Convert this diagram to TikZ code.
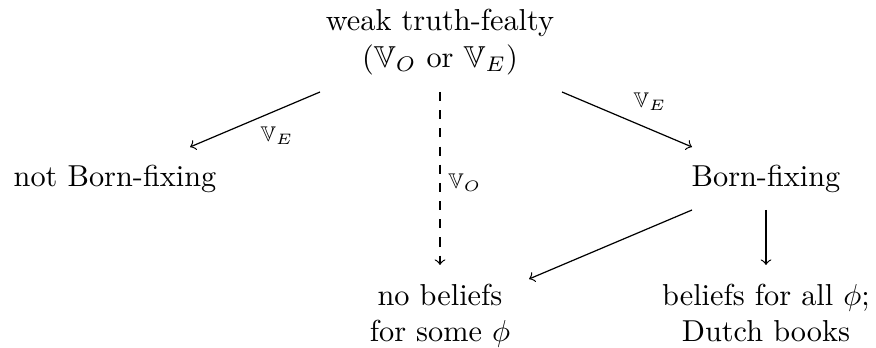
\documentclass[tikz,border=0pt]{standalone}
\usepackage{amssymb}
\usetikzlibrary{calc}
\tikzset{
  txt/.style={inner sep=0pt, align=center},
  lbl/.style={inner sep=0pt, font=\scriptsize},
  arr/.style={->, line width=0.4pt},
}
\begin{document}
\begin{tikzpicture}[x=0.33pt, y=-0.33pt]
\useasboundingbox (0,0) rectangle (876,348);
\node[txt] (top) at (440,42) {weak truth-fealty\\($\mathbb{V}_O$ or $\mathbb{V}_E$)};
\node[txt, anchor=base] (nbf) at (115,187) {not Born-fixing};
\node[txt, anchor=base] (bf) at (766,187) {Born-fixing};
\node[txt] (nb) at (440,316) {no beliefs\\for some $\phi$};
\node[txt] (bd) at (766,313) {beliefs for all $\phi$;\\Dutch books};
% arrows
\draw[arr] ($(top)+(-120,50)$) -- ($(nbf.base)+(75,-40)$);
\draw[arr, dashed] ($(top)+(0,50)$) -- ($(nb)+(0,-51)$);
\draw[arr] ($(top)+(122,50)$) -- ($(bf.base)+(-74,-40)$);
\draw[arr] ($(bf.base)+(-74,23)$) -- ($(nb)+(89,-37)$);
\draw[arr] ($(bf.base)+(0,23)$) -- ($(bd)+(0,-48)$);
% labels
\node[lbl] (l1) at (277,136) {$\mathbb{V}_E$};
\node[lbl] (l2) at (465,183) {$\mathbb{V}_O$};
\node[lbl] (l3) at (650,102) {$\mathbb{V}_E$};
\end{tikzpicture}
\end{document}
